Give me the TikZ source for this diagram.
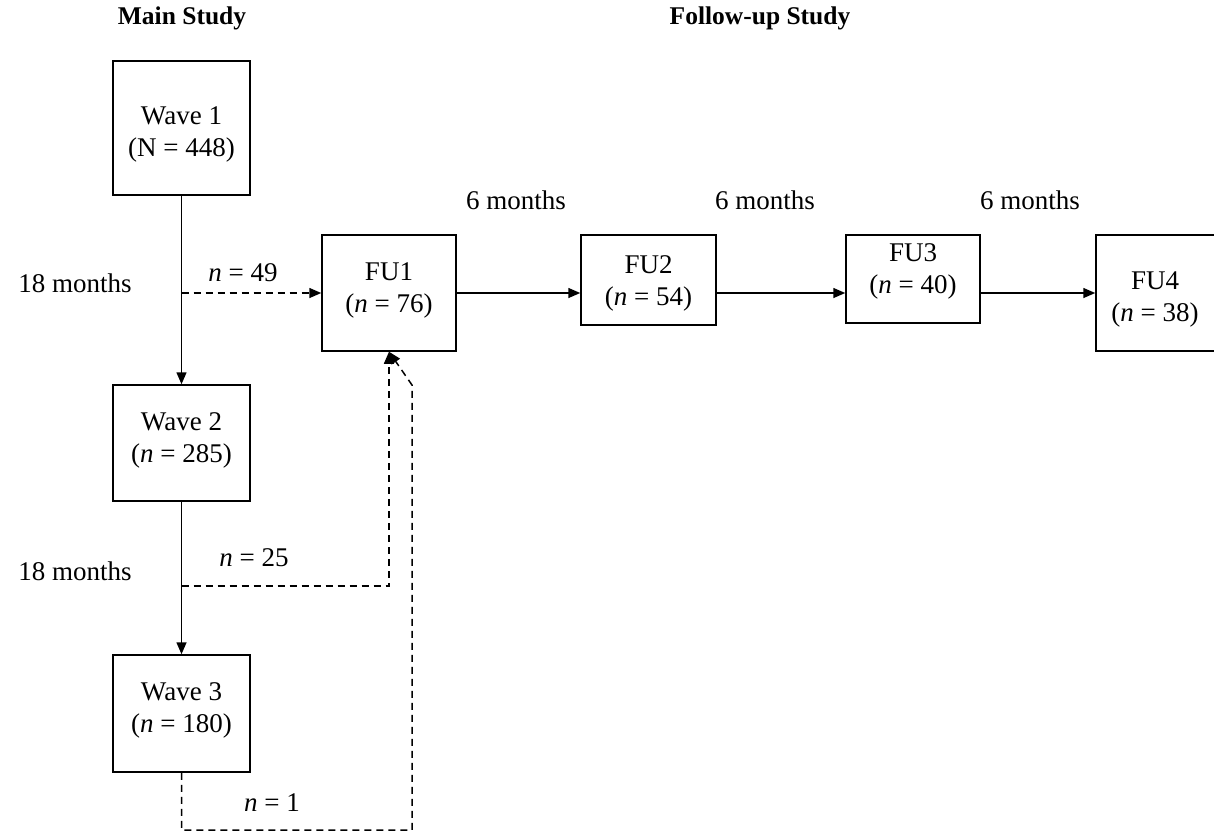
\documentclass[tikz,border=0pt]{standalone}
\usepackage{fontspec}
\setmainfont{Liberation Serif}
\usetikzlibrary{arrows.meta}
\newcommand{\bodysize}{\fontsize{27}{32}\selectfont}
\newcommand{\headsize}{\fontsize{25.5}{30}\selectfont}

\begin{document}
\begin{tikzpicture}[x=1pt, y=-1pt,
        box/.style={draw, line width=1.5pt, minimum width=135pt, inner sep=0pt},
        txt/.style={font=\bodysize, align=center},
        head/.style={font=\headsize\bfseries},
        arr/.style={line width=1.5pt, -{Triangle[length=12pt, width=10pt]}},
        dasharr/.style={arr, dash pattern=on 7pt off 5pt}]

        \useasboundingbox (0, 0) rectangle (1214, 836);

        \node[head] (mainhead) at (182, 18) {Main Study};
        \node[head] (fuhead) at (760, 18) {Follow-up Study};

        % main study waves
        \node[box, minimum width=137pt, minimum height=134pt] (w1) at (181.5, 128) {};
        \node[txt] (w1t) at (181.5, 134) {Wave 1\\(N = 448)};
        \node[box, minimum width=137pt, minimum height=116pt] (w2) at (181.5, 443) {};
        \node[txt] (w2t) at (181.5, 440) {Wave 2\\(\textit{n} = 285)};
        \node[box, minimum width=137pt, minimum height=117pt] (w3) at (181.5, 713.5) {};
        \node[txt] (w3t) at (181.5, 710) {Wave 3\\(\textit{n} = 180)};

        % follow-up waves
        \node[box, minimum width=134pt, minimum height=116pt] (fu1) at (389, 293) {};
        \node[txt] (fu1t) at (389, 290) {FU1\\(\textit{n} = 76)};
        \node[box, minimum width=135pt, minimum height=90pt] (fu2) at (648.5, 280) {};
        \node[txt] (fu2t) at (648.5, 283) {FU2\\(\textit{n} = 54)};
        \node[box, minimum width=134pt, minimum height=88pt] (fu3) at (913, 279) {};
        \node[txt] (fu3t) at (913, 271) {FU3\\(\textit{n} = 40)};
        \node[box, minimum width=120pt, minimum height=116pt] (fu4) at (1156, 293) {};
        \node[txt] (fu4t) at (1155, 299) {FU4\\(\textit{n} = 38)};

        \node[txt] (m1) at (75, 283) {18 months};
        \node[txt] (m2) at (75, 571) {18 months};
        \node[txt] (m3) at (516, 200) {6 months};
        \node[txt] (m4) at (765, 200) {6 months};
        \node[txt] (m5) at (1030, 200) {6 months};

        \draw[arr] (w1) -- (w2);
        \draw[arr] (w2) -- (w3);

        \draw[arr] (fu1.east) -- (fu1.east -| fu2.west);
        \draw[arr] (fu1.east -| fu2.east) -- (fu1.east -| fu3.west);
        \draw[arr] (fu1.east -| fu3.east) -- (fu1.east -| fu4.west);

        % transitions into FU1
        \coordinate (j1) at (181.5, 293);
        \coordinate (j2) at (181.5, 586);
        \coordinate (c1) at (412, 830);
        \coordinate (c2) at (412, 385);

        \draw[dasharr] (j1) -- (fu1.west);
        \node[txt] (n49) at (243, 273) {\textit{n} = 49};

        \draw[dasharr] (j2) -| (fu1.south);
        \node[txt] (n25) at (254, 558) {\textit{n} = 25};

        \draw[dasharr] (w3.south) |- (c1) -- (c2) -- (fu1.south);
        \node[txt] (n1) at (272, 803) {\textit{n} = 1};

\end{tikzpicture}
\end{document}
